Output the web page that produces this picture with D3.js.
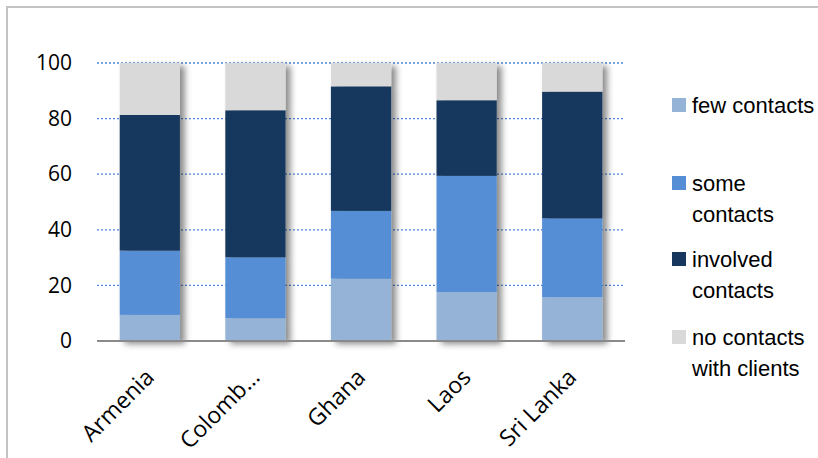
<!DOCTYPE html>
<html>
<head>
<meta charset="utf-8">
<script src="https://cdn.jsdelivr.net/npm/d3@7"></script>
<style>
  body { margin: 0; background: #fff; }
  svg { display: block; }
</style>
</head>
<body>
<svg></svg>
<script>
// chart data
const countries = ["Armenia", "Colomb…", "Ghana", "Laos", "Sri Lanka"]
const seriesNames = ["few contacts", "some contacts", "involved contacts", "no contacts with clients"]
const legendLines = [["few contacts"], ["some", "contacts"], ["involved", "contacts"], ["no contacts", "with clients"]]
const fewContacts = [9.4, 8.2, 22.4, 17.6, 15.8]
const someContacts = [23.1, 21.9, 24.4, 41.8, 28.3]
const involvedContacts = [48.8, 52.9, 44.8, 27.2, 45.6]
const noContacts = [18.7, 17.0, 8.4, 13.4, 10.3]
const yTicks = [0, 20, 40, 60, 80, 100]
const colors = ["#95b3d7", "#558ed5", "#17375e", "#d9d9d9"]

const rows = countries.map((c, i) => ({
    country: c,
    "few contacts": fewContacts[i],
    "some contacts": someContacts[i],
    "involved contacts": involvedContacts[i],
    "no contacts with clients": noContacts[i]
}))

const svg = d3.select("svg")
    .attr("width", 818)
    .attr("height", 458)

const defs = svg.append("defs")
defs.append("filter")
    .attr("id", "shadow")
    .attr("x", "-20%").attr("y", "-10%")
    .attr("width", "150%").attr("height", "130%")
    .append("feDropShadow")
    .attr("dx", 5).attr("dy", 3)
    .attr("stdDeviation", 3)
    .attr("flood-color", "#000")
    .attr("flood-opacity", 0.45)

// outer frame (only top and left visible)
svg.append("path")
    .attr("d", "M7,460 V7 H820")
    .attr("fill", "none")
    .attr("stroke", "#c3c3c3")
    .attr("stroke-width", 2)

const x = d3.scaleBand()
    .domain(countries)
    .range([97, 625])
    .paddingInner(0.43)
    .paddingOuter(0.215)

const y = d3.scaleLinear()
    .domain([0, 100])
    .range([341, 63])

// gridlines
svg.append("g")
    .selectAll("line")
    .data(yTicks.filter(d => d > 0))
    .enter()
    .append("line")
    .attr("x1", 97).attr("x2", 625)
    .attr("y1", d => y(d)).attr("y2", d => y(d))
    .attr("stroke", "#4f86d4")
    .attr("stroke-width", 1.3)
    .attr("stroke-dasharray", "2,2")

// y axis labels
const yAxis = svg.append("g")
    .attr("transform", "translate(97,0)")
    .call(d3.axisLeft(y).tickValues(yTicks).tickSize(0).tickPadding(25))
yAxis.select(".domain").remove()
yAxis.selectAll("text")
    .attr("font-family", "'Open Sans', sans-serif")
    .attr("font-size", 21)
    .attr("fill", "#000")

// stacked bars
const stacked = d3.stack().keys(seriesNames)(rows)

const bars = svg.append("g").attr("filter", "url(#shadow)")
bars.selectAll("g.layer")
    .data(stacked)
    .enter()
    .append("g")
    .attr("class", "layer")
    .attr("fill", (d, i) => colors[i])
    .selectAll("rect")
    .data(d => d)
    .enter()
    .append("rect")
    .attr("x", d => x(d.data.country))
    .attr("width", x.bandwidth())
    .attr("y", d => y(d[1]))
    .attr("height", d => y(d[0]) - y(d[1]))

// baseline
svg.append("line")
    .attr("x1", 97).attr("x2", 625)
    .attr("y1", y(0)).attr("y2", y(0))
    .attr("stroke", "#8a8a8a")
    .attr("stroke-width", 2)

// x labels
svg.append("g")
    .selectAll("text")
    .data(countries)
    .enter()
    .append("text")
    .attr("transform", d => `translate(${x(d) + x.bandwidth() / 2},${y(0) + 32}) rotate(-45)`)
    .attr("text-anchor", "end")
    .attr("dy", "0.35em")
    .attr("font-family", "'Open Sans', sans-serif")
    .attr("font-size", 23)
    .text(d => d)

// legend
const legendY = [105, 183, 259, 337]
const legend = svg.append("g")
    .selectAll("g")
    .data(seriesNames)
    .enter()
    .append("g")
    .attr("transform", (d, i) => `translate(672,${legendY[i]})`)

legend.append("rect")
    .attr("x", 0).attr("y", -7)
    .attr("width", 14).attr("height", 14)
    .attr("fill", (d, i) => colors[i])

legend.append("text")
    .attr("x", 20)
    .attr("y", 8)
    .attr("font-family", "'Liberation Sans', Arial, sans-serif")
    .attr("font-size", 22)
    .attr("fill", "#000")
    .selectAll("tspan")
    .data((d, i) => legendLines[i])
    .enter()
    .append("tspan")
    .attr("x", 20)
    .attr("dy", (d, j) => j === 0 ? 0 : 31)
    .text(d => d)
</script>
</body>
</html>
